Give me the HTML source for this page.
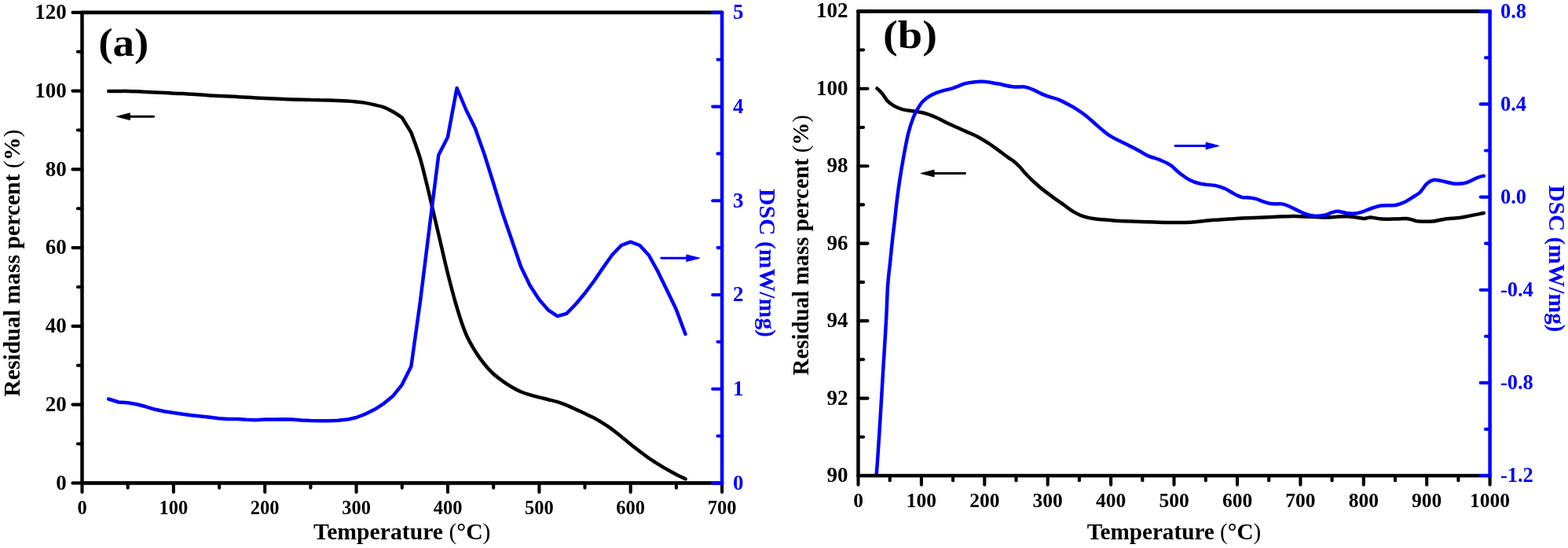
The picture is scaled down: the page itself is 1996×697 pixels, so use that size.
<!DOCTYPE html><html><head><meta charset="utf-8"><style>html,body{margin:0;padding:0;background:#fff;width:1996px;height:697px;overflow:hidden}svg{display:block}text{font-family:"Liberation Serif","Times New Roman",serif;font-weight:bold}</style></head><body>
<svg width="1996" height="697" viewBox="0 0 1996 697">
<rect width="1996" height="697" fill="#fff"/>
<path d="M138.2,116.0 C140.4,116.0 147.0,115.9 151.0,115.9 C155.1,115.9 158.8,115.8 162.7,115.9 C166.6,116.0 170.4,116.1 174.3,116.3 C178.2,116.5 182.1,116.7 185.9,116.9 C189.8,117.1 193.7,117.2 197.6,117.4 C201.5,117.6 205.3,117.8 209.2,118.0 C213.1,118.2 217.0,118.5 220.9,118.7 C224.7,118.9 228.6,118.9 232.5,119.1 C236.4,119.3 240.2,119.5 244.1,119.7 C248.0,120.0 251.9,120.3 255.8,120.6 C259.6,120.9 263.5,121.2 267.4,121.4 C271.3,121.6 275.2,121.8 279.0,122.0 C282.9,122.2 286.8,122.4 290.7,122.6 C294.5,122.8 298.4,122.9 302.3,123.1 C306.2,123.3 310.1,123.6 313.9,123.8 C317.8,124.0 321.7,124.2 325.6,124.4 C329.5,124.6 333.3,124.8 337.2,125.0 C341.1,125.2 345.0,125.3 348.8,125.5 C352.7,125.7 356.6,125.8 360.5,126.0 C364.4,126.2 368.2,126.3 372.1,126.4 C376.0,126.5 379.9,126.6 383.8,126.7 C387.6,126.8 391.5,126.9 395.4,127.0 C399.3,127.0 403.1,127.1 407.0,127.2 C410.9,127.2 414.8,127.3 418.7,127.5 C422.5,127.7 426.4,127.9 430.3,128.1 C434.2,128.3 438.1,128.4 441.9,128.6 C445.8,128.8 449.7,129.1 453.6,129.5 C457.4,129.9 461.3,130.2 465.2,130.9 C469.1,131.6 473.0,132.5 476.8,133.4 C480.7,134.3 484.6,134.9 488.5,136.3 C492.4,137.7 496.2,139.8 500.1,142.0 C504.0,144.2 509.8,148.2 511.7,149.5 L523.4,168.5 C525.3,174.1 531.1,188.7 535.0,202.0 C538.9,215.3 542.8,232.5 546.7,248.5 C550.5,264.5 554.4,281.5 558.3,298.0 C562.2,314.5 566.0,332.0 569.9,347.5 C573.8,363.0 577.7,378.1 581.6,391.0 C585.4,403.9 589.3,415.8 593.2,425.0 C597.1,434.2 601.0,440.2 604.8,446.5 C608.7,452.8 612.6,458.2 616.5,463.0 C620.3,467.8 624.2,471.9 628.1,475.5 C632.0,479.1 635.9,481.8 639.7,484.6 C643.6,487.4 647.5,489.9 651.4,492.2 C655.3,494.5 659.1,496.5 663.0,498.2 C666.9,499.9 670.8,501.0 674.6,502.2 C678.5,503.4 682.4,504.4 686.3,505.4 C690.2,506.4 694.0,507.2 697.9,508.2 C701.8,509.2 705.7,510.0 709.6,511.2 C713.4,512.4 717.3,513.8 721.2,515.4 C725.1,517.0 728.9,518.8 732.8,520.6 C736.7,522.4 740.6,524.2 744.5,526.0 C748.3,527.8 752.2,529.5 756.1,531.6 C760.0,533.7 763.9,536.0 767.7,538.4 C771.6,540.8 775.5,543.4 779.4,546.2 C783.2,549.1 787.1,552.4 791.0,555.5 C794.9,558.6 798.8,561.8 802.6,564.9 C806.5,568.0 810.4,571.0 814.3,574.0 C818.2,577.0 822.0,579.9 825.9,582.6 C829.8,585.3 833.7,587.7 837.5,590.1 C841.4,592.5 845.3,594.9 849.2,597.1 C853.1,599.3 856.9,601.5 860.8,603.5 C864.7,605.5 870.5,608.2 872.5,609.2" fill="none" stroke="#000" stroke-width="4.5" stroke-linejoin="round" stroke-linecap="round"/>
<path d="M138.2,507.5 L151.0,511.5 L162.7,512.2 L174.3,514.3 L185.9,517.3 L197.6,520.8 L209.2,523.2 L220.9,525.0 L232.5,526.7 L244.1,528.3 L255.8,529.4 L267.4,530.8 L279.0,532.2 L290.7,533.0 L302.3,533.0 L313.9,533.8 L325.6,534.2 L337.2,533.6 L348.8,533.4 L360.5,533.3 L372.1,533.6 L383.8,534.5 L395.4,535.0 L407.0,535.2 L418.7,535.2 L430.3,534.8 L441.9,533.6 L453.6,531.0 L465.2,526.6 L476.8,520.8 L488.5,513.3 L500.1,503.8 L511.7,489.3 L523.4,466.0 L535.0,383.0 L546.7,289.0 L558.3,197.2 L569.9,174.5 L581.6,112.0 L593.2,139.5 L604.8,163.0 L616.5,196.0 L628.1,233.0 L639.7,271.0 L651.4,305.0 L663.0,339.0 L674.6,363.0 L686.3,381.0 L697.9,394.4 L709.6,402.1 L721.2,398.9 L732.8,387.0 L744.5,373.0 L756.1,357.5 L767.7,340.5 L779.4,324.0 L791.0,312.0 L802.6,307.7 L814.3,312.0 L825.9,324.5 L837.5,345.5 L849.2,369.5 L860.8,393.6 L872.5,425.0" fill="none" stroke="#0000ff" stroke-width="4.5" stroke-linejoin="round" stroke-linecap="round"/>
<line x1="104.5" y1="15.9" x2="919.1" y2="15.9" stroke="#000" stroke-width="4.7" stroke-linecap="round"/>
<line x1="104.5" y1="614.4" x2="919.1" y2="614.4" stroke="#000" stroke-width="4.7" stroke-linecap="round"/>
<line x1="104.5" y1="15.9" x2="104.5" y2="614.4" stroke="#000" stroke-width="4.5" stroke-linecap="round"/>
<line x1="92.5" y1="614.4" x2="104.5" y2="614.4" stroke="#000" stroke-width="4.1" stroke-linecap="round"/>
<line x1="98.9" y1="564.5" x2="104.5" y2="564.5" stroke="#000" stroke-width="4.1" stroke-linecap="round"/>
<line x1="92.5" y1="514.6" x2="104.5" y2="514.6" stroke="#000" stroke-width="4.1" stroke-linecap="round"/>
<line x1="98.9" y1="464.8" x2="104.5" y2="464.8" stroke="#000" stroke-width="4.1" stroke-linecap="round"/>
<line x1="92.5" y1="414.9" x2="104.5" y2="414.9" stroke="#000" stroke-width="4.1" stroke-linecap="round"/>
<line x1="98.9" y1="365.0" x2="104.5" y2="365.0" stroke="#000" stroke-width="4.1" stroke-linecap="round"/>
<line x1="92.5" y1="315.1" x2="104.5" y2="315.1" stroke="#000" stroke-width="4.1" stroke-linecap="round"/>
<line x1="98.9" y1="265.3" x2="104.5" y2="265.3" stroke="#000" stroke-width="4.1" stroke-linecap="round"/>
<line x1="92.5" y1="215.4" x2="104.5" y2="215.4" stroke="#000" stroke-width="4.1" stroke-linecap="round"/>
<line x1="98.9" y1="165.5" x2="104.5" y2="165.5" stroke="#000" stroke-width="4.1" stroke-linecap="round"/>
<line x1="92.5" y1="115.6" x2="104.5" y2="115.6" stroke="#000" stroke-width="4.1" stroke-linecap="round"/>
<line x1="98.9" y1="65.8" x2="104.5" y2="65.8" stroke="#000" stroke-width="4.1" stroke-linecap="round"/>
<line x1="92.5" y1="15.9" x2="104.5" y2="15.9" stroke="#000" stroke-width="4.1" stroke-linecap="round"/>
<text x="84.7" y="622.5" font-size="27" text-anchor="end" fill="#000" >0</text>
<text x="84.7" y="522.8" font-size="27" text-anchor="end" fill="#000" >20</text>
<text x="84.7" y="423.0" font-size="27" text-anchor="end" fill="#000" >40</text>
<text x="84.7" y="323.2" font-size="27" text-anchor="end" fill="#000" >60</text>
<text x="84.7" y="223.5" font-size="27" text-anchor="end" fill="#000" >80</text>
<text x="84.7" y="123.7" font-size="27" text-anchor="end" fill="#000" >100</text>
<text x="84.7" y="24.0" font-size="27" text-anchor="end" fill="#000" >120</text>
<line x1="104.5" y1="614.4" x2="104.5" y2="626.0" stroke="#000" stroke-width="4.1" stroke-linecap="round"/>
<line x1="162.7" y1="614.4" x2="162.7" y2="620.6" stroke="#000" stroke-width="4.1" stroke-linecap="round"/>
<line x1="220.9" y1="614.4" x2="220.9" y2="626.0" stroke="#000" stroke-width="4.1" stroke-linecap="round"/>
<line x1="279.1" y1="614.4" x2="279.1" y2="620.6" stroke="#000" stroke-width="4.1" stroke-linecap="round"/>
<line x1="337.2" y1="614.4" x2="337.2" y2="626.0" stroke="#000" stroke-width="4.1" stroke-linecap="round"/>
<line x1="395.4" y1="614.4" x2="395.4" y2="620.6" stroke="#000" stroke-width="4.1" stroke-linecap="round"/>
<line x1="453.6" y1="614.4" x2="453.6" y2="626.0" stroke="#000" stroke-width="4.1" stroke-linecap="round"/>
<line x1="511.8" y1="614.4" x2="511.8" y2="620.6" stroke="#000" stroke-width="4.1" stroke-linecap="round"/>
<line x1="570.0" y1="614.4" x2="570.0" y2="626.0" stroke="#000" stroke-width="4.1" stroke-linecap="round"/>
<line x1="628.2" y1="614.4" x2="628.2" y2="620.6" stroke="#000" stroke-width="4.1" stroke-linecap="round"/>
<line x1="686.4" y1="614.4" x2="686.4" y2="626.0" stroke="#000" stroke-width="4.1" stroke-linecap="round"/>
<line x1="744.5" y1="614.4" x2="744.5" y2="620.6" stroke="#000" stroke-width="4.1" stroke-linecap="round"/>
<line x1="802.7" y1="614.4" x2="802.7" y2="626.0" stroke="#000" stroke-width="4.1" stroke-linecap="round"/>
<line x1="860.9" y1="614.4" x2="860.9" y2="620.6" stroke="#000" stroke-width="4.1" stroke-linecap="round"/>
<line x1="919.1" y1="614.4" x2="919.1" y2="626.0" stroke="#000" stroke-width="4.1" stroke-linecap="round"/>
<text x="104.5" y="654.0" font-size="24.5" text-anchor="middle" fill="#000" >0</text>
<text x="220.9" y="654.0" font-size="24.5" text-anchor="middle" fill="#000" >100</text>
<text x="337.2" y="654.0" font-size="24.5" text-anchor="middle" fill="#000" >200</text>
<text x="453.6" y="654.0" font-size="24.5" text-anchor="middle" fill="#000" >300</text>
<text x="570.0" y="654.0" font-size="24.5" text-anchor="middle" fill="#000" >400</text>
<text x="686.4" y="654.0" font-size="24.5" text-anchor="middle" fill="#000" >500</text>
<text x="802.7" y="654.0" font-size="24.5" text-anchor="middle" fill="#000" >600</text>
<text x="919.1" y="654.0" font-size="24.5" text-anchor="middle" fill="#000" >700</text>
<line x1="919.1" y1="15.9" x2="919.1" y2="614.4" stroke="#0000ff" stroke-width="4.5" stroke-linecap="round"/>
<line x1="907.2" y1="614.4" x2="919.1" y2="614.4" stroke="#0000ff" stroke-width="4.1" stroke-linecap="round"/>
<line x1="913.5" y1="554.5" x2="919.1" y2="554.5" stroke="#0000ff" stroke-width="4.1" stroke-linecap="round"/>
<line x1="907.2" y1="494.7" x2="919.1" y2="494.7" stroke="#0000ff" stroke-width="4.1" stroke-linecap="round"/>
<line x1="913.5" y1="434.8" x2="919.1" y2="434.8" stroke="#0000ff" stroke-width="4.1" stroke-linecap="round"/>
<line x1="907.2" y1="375.0" x2="919.1" y2="375.0" stroke="#0000ff" stroke-width="4.1" stroke-linecap="round"/>
<line x1="913.5" y1="315.1" x2="919.1" y2="315.1" stroke="#0000ff" stroke-width="4.1" stroke-linecap="round"/>
<line x1="907.2" y1="255.3" x2="919.1" y2="255.3" stroke="#0000ff" stroke-width="4.1" stroke-linecap="round"/>
<line x1="913.5" y1="195.4" x2="919.1" y2="195.4" stroke="#0000ff" stroke-width="4.1" stroke-linecap="round"/>
<line x1="907.2" y1="135.6" x2="919.1" y2="135.6" stroke="#0000ff" stroke-width="4.1" stroke-linecap="round"/>
<line x1="913.5" y1="75.8" x2="919.1" y2="75.8" stroke="#0000ff" stroke-width="4.1" stroke-linecap="round"/>
<line x1="907.2" y1="15.9" x2="919.1" y2="15.9" stroke="#0000ff" stroke-width="4.1" stroke-linecap="round"/>
<text x="933.1" y="622.8" font-size="27" text-anchor="start" fill="#0000ff" >0</text>
<text x="933.1" y="503.1" font-size="27" text-anchor="start" fill="#0000ff" >1</text>
<text x="933.1" y="383.4" font-size="27" text-anchor="start" fill="#0000ff" >2</text>
<text x="933.1" y="263.7" font-size="27" text-anchor="start" fill="#0000ff" >3</text>
<text x="933.1" y="144.0" font-size="27" text-anchor="start" fill="#0000ff" >4</text>
<text x="933.1" y="24.3" font-size="27" text-anchor="start" fill="#0000ff" >5</text>
<text transform="translate(125.3,70.7) scale(1.1,1)" x="0" y="0" font-size="50">(a)</text>
<line x1="165.4" y1="148.2" x2="195.6" y2="148.2" stroke="#000" stroke-width="2.9" stroke-linecap="round"/>
<path d="M148.6,148.2 L165.4,143.9 L165.4,152.5 Z" fill="#000" stroke="#000" stroke-width="1" stroke-linejoin="round"/>
<line x1="873.9" y1="328.3" x2="841.8" y2="328.3" stroke="#0000ff" stroke-width="2.9" stroke-linecap="round"/>
<path d="M890.7,328.3 L873.9,324.0 L873.9,332.6 Z" fill="#0000ff" stroke="#0000ff" stroke-width="1" stroke-linejoin="round"/>
<text x="511.8" y="686.3" font-size="29.7" text-anchor="middle" fill="#000" >Temperature <tspan font-weight="normal">(</tspan>°C<tspan font-weight="normal">)</tspan></text>
<text transform="translate(24.7,334.6) rotate(-90)" x="0" y="0" font-size="29.7" text-anchor="middle">Residual mass percent <tspan font-weight="normal">(</tspan>%<tspan font-weight="normal">)</tspan></text>
<text transform="translate(967.2,334.5) rotate(90)" x="0" y="0" font-size="29.7" text-anchor="middle" fill="#0000ff">DSC (mW/mg)</text>
<path d="M1116.5,112.5 C1117.6,113.6 1120.7,116.2 1122.9,118.9 C1125.1,121.6 1127.4,125.8 1129.8,128.4 C1132.2,131.0 1134.3,132.6 1137.5,134.4 C1140.7,136.2 1144.7,138.0 1148.7,139.2 C1152.7,140.3 1158.0,140.7 1161.6,141.3 C1165.2,141.9 1167.1,142.0 1170.2,142.6 C1173.3,143.2 1176.3,143.7 1180.0,144.9 C1183.7,146.1 1188.2,147.9 1192.5,149.8 C1196.8,151.7 1201.4,154.4 1205.8,156.5 C1210.2,158.6 1214.5,160.4 1218.8,162.3 C1223.1,164.2 1227.4,166.2 1231.7,168.1 C1236.0,170.0 1240.3,171.6 1244.6,173.9 C1248.9,176.2 1253.2,178.9 1257.5,181.7 C1261.8,184.5 1266.1,187.6 1270.4,190.7 C1274.7,193.8 1280.1,198.1 1283.4,200.4 C1286.7,202.7 1287.6,202.8 1290.0,204.7 C1292.4,206.6 1295.1,209.1 1297.7,211.8 C1300.3,214.5 1302.9,218.0 1305.5,220.8 C1308.1,223.6 1310.6,226.1 1313.2,228.6 C1315.8,231.1 1318.4,233.4 1321.0,235.7 C1323.6,237.9 1326.1,240.1 1328.7,242.1 C1331.3,244.1 1333.9,246.0 1336.5,247.9 C1339.1,249.8 1341.6,251.9 1344.2,253.7 C1346.8,255.5 1349.4,257.1 1352.0,258.9 C1354.6,260.7 1357.1,262.9 1359.7,264.7 C1362.3,266.5 1364.9,268.4 1367.5,269.9 C1370.1,271.4 1372.6,272.7 1375.2,273.8 C1377.8,274.9 1380.0,275.6 1383.0,276.3 C1386.0,277.1 1390.5,277.9 1393.3,278.3 C1396.1,278.8 1395.5,278.6 1400.0,279.0 C1404.5,279.4 1413.3,280.3 1420.0,280.7 C1426.7,281.1 1433.3,281.4 1440.0,281.6 C1446.7,281.9 1454.2,282.0 1460.0,282.2 C1465.8,282.4 1470.0,282.6 1475.0,282.8 C1480.0,283.0 1485.0,283.1 1490.0,283.1 C1495.0,283.1 1500.3,283.1 1505.0,283.0 C1509.7,282.9 1514.0,282.8 1518.0,282.5 C1522.0,282.2 1525.1,281.9 1528.8,281.5 C1532.5,281.1 1536.5,280.5 1540.3,280.2 C1544.1,279.9 1547.7,279.8 1551.8,279.5 C1555.9,279.2 1560.0,278.9 1565.0,278.6 C1570.0,278.3 1575.2,277.8 1581.5,277.5 C1587.8,277.2 1595.8,277.0 1603.0,276.7 C1610.2,276.4 1617.4,276.0 1624.6,275.7 C1631.8,275.4 1640.1,275.0 1646.1,275.0 C1652.1,275.0 1655.6,275.4 1660.4,275.6 C1665.2,275.8 1670.0,275.8 1674.8,276.0 C1679.6,276.2 1684.5,276.7 1689.0,276.6 C1693.5,276.6 1696.5,275.9 1701.5,275.7 C1706.5,275.5 1713.0,275.0 1718.7,275.4 C1724.4,275.8 1731.6,277.8 1735.9,278.0 C1740.2,278.2 1740.7,276.4 1744.5,276.5 C1748.3,276.6 1753.5,278.2 1758.8,278.5 C1764.1,278.8 1770.8,278.6 1776.1,278.5 C1781.4,278.4 1786.4,277.7 1790.4,278.0 C1794.4,278.3 1797.3,279.6 1800.0,280.2 C1802.7,280.8 1802.4,281.3 1806.3,281.5 C1810.2,281.7 1818.2,281.9 1823.5,281.5 C1828.8,281.1 1831.9,279.7 1837.9,278.9 C1843.9,278.1 1853.4,277.6 1859.4,276.8 C1865.4,276.0 1868.8,274.9 1873.7,273.9 C1878.6,272.9 1886.3,271.5 1888.8,271.0" fill="none" stroke="#000" stroke-width="4.5" stroke-linejoin="round" stroke-linecap="round"/>
<path d="M1115.8,602.5 C1116.0,599.1 1116.4,595.1 1117.3,582.1 C1118.2,569.1 1119.8,543.8 1121.0,524.7 C1122.2,505.6 1123.2,486.5 1124.4,467.4 C1125.6,448.3 1127.0,427.3 1127.9,410.0 C1128.9,392.7 1129.2,375.9 1130.1,363.4 C1130.9,350.8 1132.0,344.2 1133.0,334.7 C1134.0,325.1 1134.9,315.2 1135.9,306.1 C1136.9,297.0 1138.1,287.6 1139.0,280.0 C1139.9,272.4 1140.1,268.7 1141.1,260.4 C1142.1,252.1 1143.6,240.3 1145.1,230.3 C1146.6,220.3 1148.3,210.2 1150.1,200.2 C1151.9,190.2 1154.0,178.6 1156.1,170.1 C1158.2,161.6 1160.7,154.4 1162.8,149.0 C1164.9,143.6 1166.5,141.2 1168.5,137.9 C1170.5,134.6 1172.1,131.9 1174.5,129.3 C1176.9,126.7 1180.2,124.3 1183.1,122.4 C1186.0,120.5 1188.4,119.4 1191.8,118.1 C1195.2,116.8 1200.0,115.5 1203.3,114.6 C1206.6,113.7 1208.8,113.4 1211.5,112.6 C1214.2,111.8 1217.0,110.6 1219.8,109.6 C1222.6,108.5 1224.9,107.2 1228.1,106.3 C1231.3,105.4 1235.4,104.8 1239.1,104.4 C1242.8,104.0 1246.4,103.7 1250.1,103.8 C1253.8,103.9 1257.4,104.4 1261.1,104.9 C1264.8,105.4 1269.0,106.2 1272.2,106.8 C1275.4,107.4 1277.7,108.2 1280.4,108.8 C1283.2,109.4 1285.9,109.9 1288.7,110.2 C1291.5,110.5 1294.3,110.4 1297.0,110.5 C1299.7,110.6 1301.9,109.9 1305.0,110.6 C1308.1,111.2 1312.3,112.9 1315.8,114.4 C1319.3,115.9 1322.3,117.9 1325.9,119.4 C1329.5,121.0 1333.8,122.5 1337.4,123.7 C1341.0,124.9 1343.8,125.2 1347.4,126.6 C1351.0,128.0 1355.1,130.3 1358.9,132.3 C1362.7,134.3 1366.6,136.4 1370.4,138.8 C1374.2,141.2 1378.0,143.7 1381.8,146.7 C1385.6,149.7 1389.5,153.4 1393.3,156.7 C1397.1,160.0 1401.2,163.8 1404.8,166.7 C1408.4,169.6 1411.2,171.7 1414.8,173.9 C1418.4,176.1 1422.5,177.8 1426.3,179.7 C1430.1,181.6 1434.1,183.5 1437.8,185.4 C1441.5,187.3 1444.9,188.9 1448.6,190.9 C1452.3,192.9 1455.3,195.4 1460.1,197.6 C1464.9,199.8 1472.3,201.7 1477.3,203.8 C1482.3,205.9 1486.1,207.4 1490.2,210.2 C1494.3,212.9 1497.6,217.2 1501.7,220.3 C1505.8,223.4 1510.0,226.6 1514.6,228.9 C1519.1,231.2 1523.5,232.7 1529.0,233.9 C1534.5,235.1 1542.4,235.1 1547.6,236.1 C1552.8,237.1 1556.7,238.8 1560.0,240.2 C1563.3,241.6 1564.8,243.0 1567.2,244.3 C1569.6,245.7 1571.9,247.2 1574.3,248.3 C1576.7,249.4 1578.9,250.6 1581.5,251.1 C1584.1,251.6 1587.2,251.2 1590.1,251.5 C1593.0,251.8 1596.0,252.2 1598.7,252.9 C1601.5,253.6 1603.7,254.8 1606.6,255.8 C1609.5,256.8 1613.0,258.1 1616.0,258.7 C1619.0,259.3 1622.0,259.3 1624.6,259.4 C1627.2,259.5 1629.3,259.0 1631.7,259.4 C1634.1,259.8 1635.9,260.3 1638.9,261.5 C1641.9,262.7 1646.1,264.9 1649.7,266.6 C1653.3,268.3 1656.8,270.3 1660.4,271.6 C1664.0,272.9 1668.2,274.0 1671.2,274.5 C1674.2,275.0 1676.0,274.9 1678.4,274.8 C1680.8,274.7 1683.6,274.1 1685.5,273.7 C1687.4,273.3 1688.3,273.2 1690.0,272.6 C1691.7,272.0 1693.6,270.8 1695.7,270.2 C1697.8,269.6 1699.7,268.7 1702.6,268.8 C1705.5,268.9 1709.4,270.3 1713.0,270.8 C1716.6,271.3 1720.6,271.9 1724.4,271.6 C1728.2,271.3 1732.1,270.0 1735.9,268.8 C1739.7,267.6 1743.6,265.7 1747.4,264.5 C1751.2,263.3 1754.0,262.2 1758.8,261.6 C1763.6,261.0 1771.3,261.7 1776.1,261.0 C1780.9,260.3 1783.4,259.2 1787.5,257.3 C1791.6,255.4 1797.1,251.6 1800.5,249.5 C1803.9,247.4 1805.1,247.1 1807.7,244.5 C1810.3,241.9 1813.5,236.3 1816.3,233.7 C1819.1,231.1 1821.4,229.6 1824.5,229.0 C1827.6,228.4 1830.4,229.3 1835.0,230.1 C1839.6,230.9 1846.9,233.3 1852.2,233.7 C1857.5,234.1 1861.8,233.6 1866.6,232.3 C1871.4,231.0 1877.2,227.2 1880.9,225.8 C1884.6,224.4 1887.5,224.0 1888.8,223.7" fill="none" stroke="#0000ff" stroke-width="4.5" stroke-linejoin="round" stroke-linecap="round"/>
<line x1="1092.5" y1="14.3" x2="1896.6" y2="14.3" stroke="#000" stroke-width="4.7" stroke-linecap="round"/>
<line x1="1092.5" y1="605.0" x2="1896.6" y2="605.0" stroke="#000" stroke-width="4.7" stroke-linecap="round"/>
<line x1="1092.5" y1="14.3" x2="1092.5" y2="605.0" stroke="#000" stroke-width="4.5" stroke-linecap="round"/>
<line x1="1092.5" y1="605.0" x2="1104.5" y2="605.0" stroke="#000" stroke-width="4.1" stroke-linecap="round"/>
<line x1="1092.5" y1="555.8" x2="1099.1" y2="555.8" stroke="#000" stroke-width="4.1" stroke-linecap="round"/>
<line x1="1092.5" y1="506.6" x2="1104.5" y2="506.6" stroke="#000" stroke-width="4.1" stroke-linecap="round"/>
<line x1="1092.5" y1="457.3" x2="1099.1" y2="457.3" stroke="#000" stroke-width="4.1" stroke-linecap="round"/>
<line x1="1092.5" y1="408.1" x2="1104.5" y2="408.1" stroke="#000" stroke-width="4.1" stroke-linecap="round"/>
<line x1="1092.5" y1="358.9" x2="1099.1" y2="358.9" stroke="#000" stroke-width="4.1" stroke-linecap="round"/>
<line x1="1092.5" y1="309.6" x2="1104.5" y2="309.6" stroke="#000" stroke-width="4.1" stroke-linecap="round"/>
<line x1="1092.5" y1="260.4" x2="1099.1" y2="260.4" stroke="#000" stroke-width="4.1" stroke-linecap="round"/>
<line x1="1092.5" y1="211.2" x2="1104.5" y2="211.2" stroke="#000" stroke-width="4.1" stroke-linecap="round"/>
<line x1="1092.5" y1="162.0" x2="1099.1" y2="162.0" stroke="#000" stroke-width="4.1" stroke-linecap="round"/>
<line x1="1092.5" y1="112.8" x2="1104.5" y2="112.8" stroke="#000" stroke-width="4.1" stroke-linecap="round"/>
<line x1="1092.5" y1="63.5" x2="1099.1" y2="63.5" stroke="#000" stroke-width="4.1" stroke-linecap="round"/>
<line x1="1092.5" y1="14.3" x2="1104.5" y2="14.3" stroke="#000" stroke-width="4.1" stroke-linecap="round"/>
<text x="1079.5" y="612.9" font-size="27" text-anchor="end" fill="#000" >90</text>
<text x="1079.5" y="514.5" font-size="27" text-anchor="end" fill="#000" >92</text>
<text x="1079.5" y="416.0" font-size="27" text-anchor="end" fill="#000" >94</text>
<text x="1079.5" y="317.5" font-size="27" text-anchor="end" fill="#000" >96</text>
<text x="1079.5" y="219.1" font-size="27" text-anchor="end" fill="#000" >98</text>
<text x="1079.5" y="120.7" font-size="27" text-anchor="end" fill="#000" >100</text>
<text x="1079.5" y="22.2" font-size="27" text-anchor="end" fill="#000" >102</text>
<line x1="1092.5" y1="605.0" x2="1092.5" y2="616.6" stroke="#000" stroke-width="4.1" stroke-linecap="round"/>
<line x1="1132.7" y1="605.0" x2="1132.7" y2="611.2" stroke="#000" stroke-width="4.1" stroke-linecap="round"/>
<line x1="1172.9" y1="605.0" x2="1172.9" y2="616.6" stroke="#000" stroke-width="4.1" stroke-linecap="round"/>
<line x1="1213.1" y1="605.0" x2="1213.1" y2="611.2" stroke="#000" stroke-width="4.1" stroke-linecap="round"/>
<line x1="1253.3" y1="605.0" x2="1253.3" y2="616.6" stroke="#000" stroke-width="4.1" stroke-linecap="round"/>
<line x1="1293.5" y1="605.0" x2="1293.5" y2="611.2" stroke="#000" stroke-width="4.1" stroke-linecap="round"/>
<line x1="1333.7" y1="605.0" x2="1333.7" y2="616.6" stroke="#000" stroke-width="4.1" stroke-linecap="round"/>
<line x1="1373.9" y1="605.0" x2="1373.9" y2="611.2" stroke="#000" stroke-width="4.1" stroke-linecap="round"/>
<line x1="1414.1" y1="605.0" x2="1414.1" y2="616.6" stroke="#000" stroke-width="4.1" stroke-linecap="round"/>
<line x1="1454.3" y1="605.0" x2="1454.3" y2="611.2" stroke="#000" stroke-width="4.1" stroke-linecap="round"/>
<line x1="1494.5" y1="605.0" x2="1494.5" y2="616.6" stroke="#000" stroke-width="4.1" stroke-linecap="round"/>
<line x1="1534.8" y1="605.0" x2="1534.8" y2="611.2" stroke="#000" stroke-width="4.1" stroke-linecap="round"/>
<line x1="1575.0" y1="605.0" x2="1575.0" y2="616.6" stroke="#000" stroke-width="4.1" stroke-linecap="round"/>
<line x1="1615.2" y1="605.0" x2="1615.2" y2="611.2" stroke="#000" stroke-width="4.1" stroke-linecap="round"/>
<line x1="1655.4" y1="605.0" x2="1655.4" y2="616.6" stroke="#000" stroke-width="4.1" stroke-linecap="round"/>
<line x1="1695.6" y1="605.0" x2="1695.6" y2="611.2" stroke="#000" stroke-width="4.1" stroke-linecap="round"/>
<line x1="1735.8" y1="605.0" x2="1735.8" y2="616.6" stroke="#000" stroke-width="4.1" stroke-linecap="round"/>
<line x1="1776.0" y1="605.0" x2="1776.0" y2="611.2" stroke="#000" stroke-width="4.1" stroke-linecap="round"/>
<line x1="1816.2" y1="605.0" x2="1816.2" y2="616.6" stroke="#000" stroke-width="4.1" stroke-linecap="round"/>
<line x1="1856.4" y1="605.0" x2="1856.4" y2="611.2" stroke="#000" stroke-width="4.1" stroke-linecap="round"/>
<line x1="1896.6" y1="605.0" x2="1896.6" y2="616.6" stroke="#000" stroke-width="4.1" stroke-linecap="round"/>
<text x="1092.5" y="645.2" font-size="25.5" text-anchor="middle" fill="#000" >0</text>
<text x="1172.9" y="645.2" font-size="25.5" text-anchor="middle" fill="#000" >100</text>
<text x="1253.3" y="645.2" font-size="25.5" text-anchor="middle" fill="#000" >200</text>
<text x="1333.7" y="645.2" font-size="25.5" text-anchor="middle" fill="#000" >300</text>
<text x="1414.1" y="645.2" font-size="25.5" text-anchor="middle" fill="#000" >400</text>
<text x="1494.5" y="645.2" font-size="25.5" text-anchor="middle" fill="#000" >500</text>
<text x="1575.0" y="645.2" font-size="25.5" text-anchor="middle" fill="#000" >600</text>
<text x="1655.4" y="645.2" font-size="25.5" text-anchor="middle" fill="#000" >700</text>
<text x="1735.8" y="645.2" font-size="25.5" text-anchor="middle" fill="#000" >800</text>
<text x="1816.2" y="645.2" font-size="25.5" text-anchor="middle" fill="#000" >900</text>
<text x="1896.6" y="645.2" font-size="25.5" text-anchor="middle" fill="#000" >1000</text>
<line x1="1896.6" y1="14.3" x2="1896.6" y2="605.0" stroke="#0000ff" stroke-width="4.5" stroke-linecap="round"/>
<line x1="1884.7" y1="605.0" x2="1896.6" y2="605.0" stroke="#0000ff" stroke-width="4.1" stroke-linecap="round"/>
<line x1="1891.0" y1="545.9" x2="1896.6" y2="545.9" stroke="#0000ff" stroke-width="4.1" stroke-linecap="round"/>
<line x1="1884.7" y1="486.9" x2="1896.6" y2="486.9" stroke="#0000ff" stroke-width="4.1" stroke-linecap="round"/>
<line x1="1891.0" y1="427.8" x2="1896.6" y2="427.8" stroke="#0000ff" stroke-width="4.1" stroke-linecap="round"/>
<line x1="1884.7" y1="368.7" x2="1896.6" y2="368.7" stroke="#0000ff" stroke-width="4.1" stroke-linecap="round"/>
<line x1="1891.0" y1="309.6" x2="1896.6" y2="309.6" stroke="#0000ff" stroke-width="4.1" stroke-linecap="round"/>
<line x1="1884.7" y1="250.6" x2="1896.6" y2="250.6" stroke="#0000ff" stroke-width="4.1" stroke-linecap="round"/>
<line x1="1891.0" y1="191.5" x2="1896.6" y2="191.5" stroke="#0000ff" stroke-width="4.1" stroke-linecap="round"/>
<line x1="1884.7" y1="132.4" x2="1896.6" y2="132.4" stroke="#0000ff" stroke-width="4.1" stroke-linecap="round"/>
<line x1="1891.0" y1="73.4" x2="1896.6" y2="73.4" stroke="#0000ff" stroke-width="4.1" stroke-linecap="round"/>
<line x1="1884.7" y1="14.3" x2="1896.6" y2="14.3" stroke="#0000ff" stroke-width="4.1" stroke-linecap="round"/>
<text x="1909.9" y="613.2" font-size="26.5" text-anchor="start" fill="#0000ff" >-1.2</text>
<text x="1909.9" y="495.1" font-size="26.5" text-anchor="start" fill="#0000ff" >-0.8</text>
<text x="1909.9" y="376.9" font-size="26.5" text-anchor="start" fill="#0000ff" >-0.4</text>
<text x="1909.9" y="258.8" font-size="26.5" text-anchor="start" fill="#0000ff" >0.0</text>
<text x="1909.9" y="140.6" font-size="26.5" text-anchor="start" fill="#0000ff" >0.4</text>
<text x="1909.9" y="22.5" font-size="26.5" text-anchor="start" fill="#0000ff" >0.8</text>
<text transform="translate(1124.0,61.3) scale(1.107,1)" x="0" y="0" font-size="51">(b)</text>
<line x1="1189.1" y1="220.5" x2="1228.5" y2="220.5" stroke="#000" stroke-width="2.9" stroke-linecap="round"/>
<path d="M1172.3,220.5 L1189.1,216.2 L1189.1,224.8 Z" fill="#000" stroke="#000" stroke-width="1" stroke-linejoin="round"/>
<line x1="1535.1" y1="185.5" x2="1496.0" y2="185.5" stroke="#0000ff" stroke-width="2.9" stroke-linecap="round"/>
<path d="M1551.9,185.5 L1535.1,181.2 L1535.1,189.8 Z" fill="#0000ff" stroke="#0000ff" stroke-width="1" stroke-linejoin="round"/>
<text x="1494.5" y="686.3" font-size="29.2" text-anchor="middle" fill="#000" >Temperature <tspan font-weight="normal">(</tspan>°C<tspan font-weight="normal">)</tspan></text>
<text transform="translate(1029,311.8) rotate(-90)" x="0" y="0" font-size="28.95" text-anchor="middle">Residual mass percent <tspan font-weight="normal">(</tspan>%<tspan font-weight="normal">)</tspan></text>
<text transform="translate(1971.5,328.9) rotate(90)" x="0" y="0" font-size="29.4" text-anchor="middle" fill="#0000ff">DSC (mW/mg)</text>
</svg></body></html>
